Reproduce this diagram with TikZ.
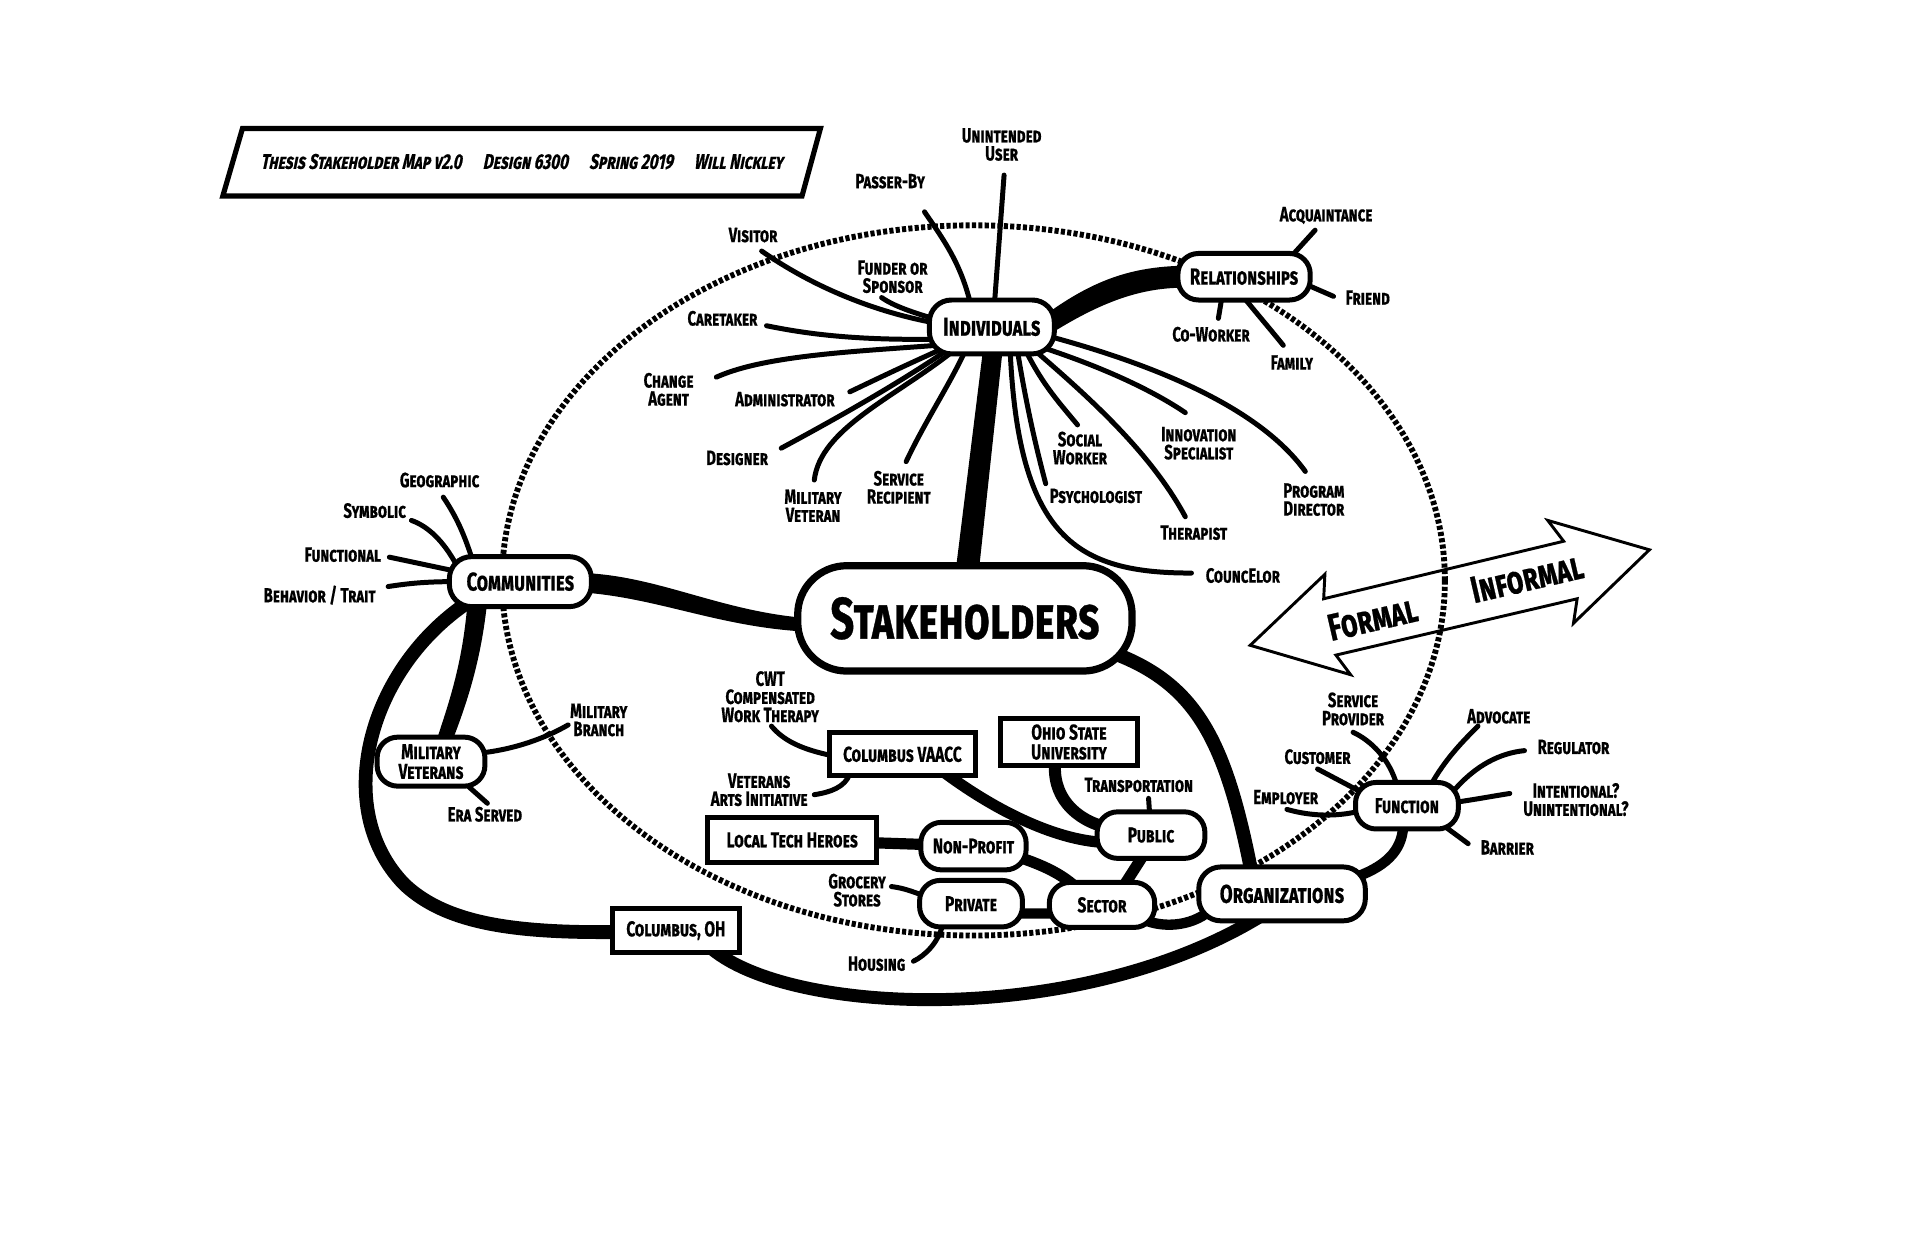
\documentclass[tikz,border=0pt]{standalone}
\usepackage{fontspec}
\newfontfamily\labfont{Fira Sans}[FakeStretch=0.72,FakeBold=0.6]
\newfontfamily\ttlfont{Fira Sans}[FakeStretch=0.72,FakeSlant=0.2,FakeBold=0.6]
\usetikzlibrary{backgrounds,calc}
\newcommand\myfs[2]{\fontsize{#1}{#2}\selectfont}
\tikzset{
  hub/.style={draw, line width=2.9pt, fill=white, rounded corners=0.42cm, align=center, inner sep=0pt,
    font=\labfont\bfseries\scshape\myfs{12.5}{11.5}},
  bighub/.style={hub, rounded corners=0.45cm, font=\labfont\bfseries\scshape\myfs{15}{14}},
  boxn/.style={draw, line width=2.9pt, fill=white, align=center, inner sep=0pt,
    font=\labfont\bfseries\scshape\myfs{12.5}{11.5}},
  lbl/.style={align=center, inner sep=0pt, font=\labfont\bfseries\scshape\myfs{12}{10.5}},
  spoke/.style={line width=2.9pt, line cap=round, line join=round},
  fat/.style={line width=#1, line cap=round, line join=round},
  dotring/.style={line width=3.4pt, dash pattern=on 2.4pt off 1.3pt},
  arrowtxt/.style={inner sep=0pt, rotate=13, font=\labfont\bfseries\scshape\myfs{22}{22}}
}
\begin{document}
\begin{tikzpicture}[x=0.025cm, y=-0.025cm]
\useasboundingbox (0,0) rectangle (1568,1014);

% ---------- title ----------
\draw[line width=3pt] (198,105) -- (670,105) -- (655,160) -- (182,160) -- cycle;
\node[inner sep=0pt, font=\ttlfont\bfseries\scshape\myfs{12.3}{12}] (title) at (426,132)
  {Thesis Stakeholder Map v2.0\quad Design 6300\quad Spring 2019\quad Will Nickley};

% ---------- main nodes ----------
\node[hub, line width=4.2pt, rounded corners=1cm, minimum width=6.825cm, minimum height=2.15cm,
  font=\labfont\bfseries\scshape\myfs{34}{34}] (stake) at (788,505) {Stakeholders};
\node[bighub, minimum width=2.55cm, minimum height=1.1cm] (ind) at (810,267) {Individuals};
\node[hub, minimum width=2.7cm, minimum height=0.95cm, font=\labfont\bfseries\scshape\myfs{13.5}{13}] (rel) at (1016,226) {Relationships};
\node[bighub, minimum width=2.9cm, minimum height=1.02cm] (com) at (425,475) {Communities};
\node[hub, minimum width=2.2cm, minimum height=1.0cm] (mil) at (352,622) {Military\\Veterans};
\node[bighub, minimum width=3.4cm, minimum height=1.1cm] (org) at (1047,730) {Organizations};
\node[hub, minimum width=2.1cm, minimum height=0.95cm] (func) at (1149,658) {Function};
\node[hub, minimum width=2.2cm, minimum height=0.95cm] (pub) at (940,682) {Public};
\node[hub, minimum width=2.15cm, minimum height=0.97cm] (np) at (795,691) {Non-Profit};
\node[hub, minimum width=2.1cm, minimum height=0.95cm] (priv) at (793,738) {Private};
\node[hub, minimum width=2.15cm, minimum height=0.92cm] (sect) at (900,739) {Sector};
\node[boxn, minimum width=2.975cm, minimum height=0.875cm] (vaacc) at (737,616) {Columbus VAACC};
\node[boxn, minimum width=2.78cm, minimum height=0.95cm] (osu) at (873,606) {Ohio State\\University};
\node[boxn, minimum width=3.45cm, minimum height=0.92cm] (lth) at (647,686) {Local Tech Heroes};
\node[boxn, minimum width=2.6cm, minimum height=0.9cm] (colo) at (552,760) {Columbus, OH};

% ---------- labels ----------
\node[lbl] (unint) at (818,118) {Unintended\\User};
\node[lbl] (passer) at (727,148) {Passer-By};
\node[lbl] (visitor) at (615,192) {Visitor};
\node[lbl] (funder) at (729,226) {Funder or\\Sponsor};
\node[lbl] (caretaker) at (590,260) {Caretaker};
\node[lbl] (change) at (546,318) {Change\\Agent};
\node[lbl] (admin) at (641,326) {Administrator};
\node[lbl] (designer) at (602,374) {Designer};
\node[lbl] (milvet) at (664,413) {Military\\Veteran};
\node[lbl] (servrec) at (734,398) {Service\\Recipient};
\node[lbl] (social) at (882,366) {Social\\Worker};
\node[lbl] (psych) at (895,405) {Psychologist};
\node[lbl] (innov) at (979,362) {Innovation\\Specialist};
\node[lbl] (therap) at (975,435) {Therapist};
\node[lbl] (progdir) at (1073,408) {Program\\Director};
\node[lbl] (councel) at (1015,470) {CouncElor};
\node[lbl] (acq) at (1083,176) {Acquaintance};
\node[lbl] (friend) at (1117,243) {Friend};
\node[lbl] (cowork) at (989,273) {Co-Worker};
\node[lbl] (family) at (1055,296) {Family};
\node[lbl] (geo) at (359,392) {Geographic};
\node[lbl] (symb) at (306,417) {Symbolic};
\node[lbl] (functional) at (280,453) {Functional};
\node[lbl] (behav) at (261,486) {Behavior / Trait};
\node[lbl] (milbr) at (489,588) {Military\\Branch};
\node[lbl] (era) at (396,665) {Era Served};
\node[lbl] (cwt) at (629,569) {CWT\\Compensated\\Work Therapy};
\node[lbl] (vai) at (620,645) {Veterans\\Arts Initiative};
\node[lbl] (transp) at (930,641) {Transportation};
\node[lbl] (grocery) at (700,727) {Grocery\\Stores};
\node[lbl] (housing) at (716,787) {Housing};
\node[lbl] (servprov) at (1105,579) {Service\\Provider};
\node[lbl] (customer) at (1076,618) {Customer};
\node[lbl] (employer) at (1050,651) {Employer};
\node[lbl] (advocate) at (1224,585) {Advocate};
\node[lbl] (regulator) at (1285,610) {Regulator};
\node[lbl] (intent) at (1287,653) {Intentional?\\Unintentional?};
\node[lbl] (barrier) at (1231,692) {Barrier};

% ---------- formal / informal arrow ----------
\draw[line width=1.7pt, line join=miter] (1021,527) -- (1082,469) -- (1081,489) -- (1277,442) -- (1264,425)
  -- (1347,449) -- (1285,509) -- (1288,489) -- (1091,535) -- (1103,551) -- cycle;
\node[arrowtxt] (formal) at (1121,505) {Formal};
\node[arrowtxt] (informal) at (1247,472) {Informal};

% ---------- background: ellipse and connectors ----------
\begin{pgfonlayer}{background}
\fill[white] (0,0) rectangle (1568,1014);
\draw[dotring] (795,474) ellipse [x radius=385, y radius=290];

% Individuals spokes
\draw[spoke] (ind.center) -- (812,250) -- (820,143);
\draw[spoke] (ind.center) -- (793,250) .. controls (785,215) and (770,195) .. (755,173);
\draw[spoke] (ind.center) -- (765,264) .. controls (715,255) and (665,235) .. (622,205);
\draw[spoke] (ind.center) -- (765,261) .. controls (745,255) and (730,250) .. (720,243);
\draw[spoke] (ind.center) -- (765,277) .. controls (700,278) and (660,273) .. (626,266);
\draw[spoke] (ind.center) -- (765,282) .. controls (700,287) and (625,290) .. (585,308);
\draw[spoke] (ind.center) -- (767,286) .. controls (740,298) and (715,310) .. (694,320);
\draw[spoke] (ind.center) -- (772,287) .. controls (735,312) and (690,338) .. (638,366);
\draw[spoke] (ind.center) -- (778,287) .. controls (730,325) and (670,350) .. (665,392);
\draw[spoke] (ind.center) -- (788,287) .. controls (775,315) and (755,345) .. (740,377);
\draw[spoke] (ind.center) -- (838,287) .. controls (852,315) and (866,330) .. (880,347);
\draw[spoke] (ind.center) -- (831,287) .. controls (838,330) and (846,365) .. (854,395);
\draw[spoke] (ind.center) -- (855,285) .. controls (900,300) and (940,318) .. (968,337);
\draw[spoke] (ind.center) -- (846,287) .. controls (890,325) and (940,370) .. (968,422);
\draw[spoke] (ind.center) -- (858,275) .. controls (950,300) and (1030,335) .. (1066,385);
\draw[spoke] (ind.center) -- (825,287) .. controls (832,440) and (880,468) .. (973,468);

% Relationships spokes
\draw[spoke] (rel.center) -- (1054,210) -- (1074,188);
\draw[spoke] (rel.center) -- (1066,232) -- (1089,242);
\draw[spoke] (rel.center) -- (998,242) -- (995,260);
\draw[spoke] (rel.center) -- (1015,242) .. controls (1028,258) and (1040,272) .. (1048,282);

% Communities spokes
\draw[spoke] (com.center) -- (386,458) .. controls (378,432) and (370,418) .. (362,406);
\draw[spoke] (com.center) -- (372,460) .. controls (362,442) and (350,430) .. (336,425);
\draw[spoke] (com.center) -- (370,466) -- (318,455);
\draw[spoke] (com.center) -- (370,475) .. controls (345,475) and (330,477) .. (317,479);

% Military veterans spokes
\draw[spoke] (mil.center) -- (392,615) .. controls (420,612) and (445,603) .. (464,592);
\draw[spoke] (mil.center) -- (380,640) -- (398,656);

% VAACC, Public, Private spokes
\draw[spoke] (vaacc.center) -- (679,617) .. controls (655,612) and (640,605) .. (630,593);
\draw[spoke] (vaacc.center) -- (694,632) .. controls (690,643) and (678,647) .. (665,649);
\draw[spoke] (pub.center) -- (938,652);
\draw[spoke] (priv.center) -- (753,731) .. controls (740,726) and (735,725) .. (728,724);
\draw[spoke] (priv.center) -- (770,755) .. controls (766,770) and (756,780) .. (746,785);

% Function spokes
\draw[spoke] (func.center) -- (1141,642) .. controls (1135,620) and (1120,605) .. (1105,598);
\draw[spoke] (func.center) -- (1110,646) -- (1076,628);
\draw[spoke] (func.center) -- (1108,663) .. controls (1085,668) and (1065,665) .. (1051,661);
\draw[spoke] (func.center) -- (1168,642) .. controls (1180,620) and (1195,605) .. (1207,593);
\draw[spoke] (func.center) -- (1187,646) .. controls (1205,625) and (1225,615) .. (1245,613);
\draw[spoke] (func.center) -- (1190,655) .. controls (1210,652) and (1220,650) .. (1233,648);
\draw[spoke] (func.center) -- (1180,675) -- (1199,689);

% thick branches
\fill (803,284) -- (819,284) -- (799,470) -- (780,470) -- cycle;
\fill (850,262) -- (858,254) .. controls (895,228) and (925,218) .. (966,217) -- (966,235)
  .. controls (930,235) and (898,248) .. (862,270) -- cycle;
\fill (478,468) .. controls (540,471) and (590,500) .. (662,505) -- (662,516)
  .. controls (590,513) and (540,489) .. (478,484) -- cycle;
\fill (382,490) -- (398,490) .. controls (393,540) and (381,575) .. (369,606) -- (356,606)
  .. controls (368,570) and (378,540) .. (382,490) -- cycle;
\draw[fat=8pt] (stake.center) -- (900,530) .. controls (975,555) and (1000,600) .. (1022,712) -- (org.center);
\draw[fat=8pt] (com.center) -- (385,490) .. controls (300,545) and (270,660) .. (330,722)
  .. controls (370,760) and (440,764) .. (colo.center);
\draw[fat=7.5pt] (colo.center) -- (578,772) .. controls (640,830) and (880,840) .. (1030,748) -- (org.center);
\draw[fat=6pt] (org.center) -- (1108,716) .. controls (1135,706) and (1146,692) .. (1146,672) -- (func.center);
\draw[fat=6pt] (org.center) -- (985,746) .. controls (968,758) and (945,757) .. (932,750) -- (sect.center);
\draw[fat=6pt] (priv.center) -- (830,746) -- (860,746) -- (sect.center);
\draw[fat=6.5pt] (sect.center) -- (918,723) -- (934,698) -- (pub.center);
\draw[fat=6.5pt] (np.center) -- (832,700) .. controls (850,706) and (866,713) .. (878,724) -- (sect.center);
\draw[fat=6.5pt] (lth.center) -- (np.center);
\draw[fat=6.5pt] (vaacc.center) -- (770,630) .. controls (810,660) and (860,686) .. (902,688) -- (pub.center);
\draw[fat=7pt] (osu.center) -- (862,620) .. controls (858,650) and (878,670) .. (905,676) -- (pub.center);
\end{pgfonlayer}
\end{tikzpicture}
\end{document}
